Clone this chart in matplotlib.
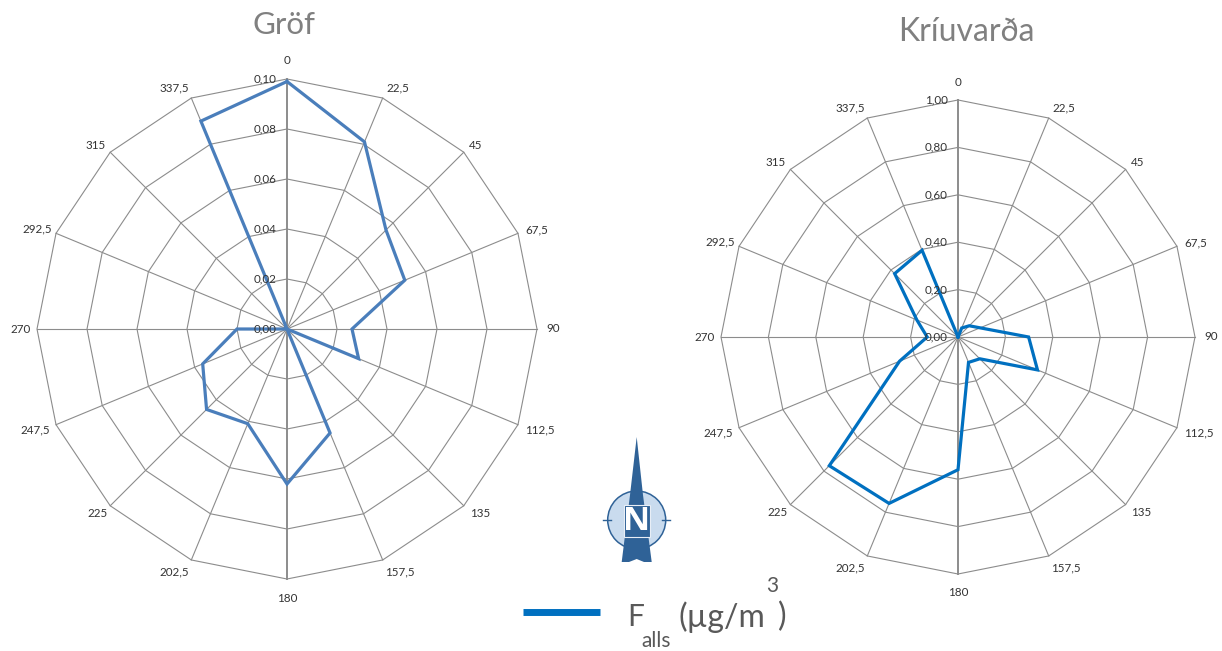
#!/usr/bin/env python3
"""Wind roses for Gröf and Kríuvarða with north arrow and shared legend."""

import numpy as np
import matplotlib
matplotlib.use("Agg")
import matplotlib.pyplot as plt
from matplotlib.patches import Circle, Polygon, Rectangle

plt.rcParams['font.family'] = ['Lato', 'Open Sans', 'DejaVu Sans']

# Data
directions = [0, 22.5, 45, 67.5, 90, 112.5, 135, 157.5, 180, 202.5, 225, 247.5,
              270, 292.5, 315, 337.5]
direction_labels = ["0", "22,5", "45", "67,5", "90", "112,5", "135", "157,5", "180",
                    "202,5", "225", "247,5", "270", "292,5", "315", "337,5"]
grof_values = [0.099, 0.081, 0.056, 0.051, 0.026, 0.031, 0.0, 0.045, 0.062,
               0.041, 0.0455, 0.0365, 0.020, 0.0, 0.0, 0.090]
kriuvarda_values = [0.0, 0.041, 0.067, 0.101, 0.298, 0.363, 0.13, 0.116, 0.56,
                    0.76, 0.768, 0.267, 0.13, 0.188, 0.378, 0.396]
grof_rticks = [0.0, 0.02, 0.04, 0.06, 0.08, 0.10]
kriuvarda_rticks = [0.0, 0.2, 0.4, 0.6, 0.8, 1.0]

# pixel offset of each direction label from its outer grid corner
label_offsets = [(0, -18), (15, -10), (12, -7), (19, -3), (16, 0), (22, 5), (16, 8),
                 (17, 12), (0, 19), (-17, 12), (-13, 8), (-21, 5), (-16, 0), (-19, -4),
                 (-15, -7), (-17, -10)]

W, H = 1222, 651
GRID = '#8c8c8c'
TITLE = '#808080'
fig = plt.figure(figsize=(W / 100, H / 100), dpi=100, facecolor='white')


def rose(cx, cy, radius, values, rticks, color, title, title_xy, title_size):
    ax = fig.add_axes([(cx - radius) / W, 1 - (cy + radius) / H,
                       2 * radius / W, 2 * radius / H], projection='polar')
    ax.set_theta_zero_location('N')
    ax.set_theta_direction(-1)
    rmax = rticks[-1]
    ax.set_rlim(0, rmax)
    ax.set_axis_off()
    theta = np.deg2rad(directions)
    ring = np.append(theta, theta[0])

    # straight-sided grid like a spreadsheet radar chart
    for r in rticks[1:]:
        ax.plot(ring, [r] * len(ring), color=GRID, lw=0.8, clip_on=False, zorder=1)
    for t, d in zip(theta, directions):
        lw = 1.4 if d in (0, 180) else 0.8
        ax.plot([t, t], [0, rmax], color=GRID, lw=lw, clip_on=False, zorder=1)

    ax.plot(ring, values + values[:1], color=color, lw=2.3, clip_on=False, zorder=3,
            solid_joinstyle='miter')

    for r in rticks:
        ax.annotate(f"{r:.2f}".replace('.', ','), (0, r), xytext=(-7.5, 0),
                    textcoords='offset points', ha='right', va='center',
                    fontsize=8.4, color='#333333', zorder=4, annotation_clip=False)
    for t, label, off in zip(theta, direction_labels, label_offsets):
        ax.annotate(label, (t, rmax), xytext=(off[0] * 0.72, -off[1] * 0.72),
                    textcoords='offset points', ha='center', va='center', fontsize=8.4,
                    color='#333333', annotation_clip=False)
    fig.text(title_xy[0] / W, 1 - title_xy[1] / H, title, ha='center', va='center',
             fontsize=title_size, color=TITLE)


rose(287, 329, 250, grof_values, grof_rticks, '#4a7ebb', 'Gröf', (284, 25), 22.5)
rose(958, 337, 237, kriuvarda_values, kriuvarda_rticks, '#0070c0', 'Kríuvarða',
     (966, 32), 23)

# overlay in pixel coordinates for north arrow and legend
over = fig.add_axes([0, 0, 1, 1])
over.set_xlim(0, W)
over.set_ylim(H, 0)
over.set_axis_off()
over.patch.set_alpha(0)

BLUE = '#2f6297'
over.add_patch(Circle((636.7, 520), 29, facecolor='#c9dbee', edgecolor=BLUE, lw=1.1))
over.plot([603, 611], [520, 520], color=BLUE, lw=1)
over.plot([662, 670], [520, 520], color=BLUE, lw=1)
over.add_patch(Polygon([(636.7, 437), (643, 495), (651.7, 562), (644, 562),
                        (636.7, 559), (629, 562), (621.7, 562), (630, 495)],
                       closed=True, facecolor=BLUE, edgecolor='none'))
over.add_patch(Rectangle((623.5, 505), 26, 32, facecolor=BLUE, edgecolor='#e8eef6', lw=0.8))
over.text(636.7, 521.5, 'N', ha='center', va='center', fontsize=24, fontweight='bold',
          family='Open Sans', color='white')

over.plot([523, 600], [612, 612], color='#0070c0', lw=5, solid_capstyle='butt')
over.text(627, 617, 'F', ha='left', va='center', fontsize=21.5, color='#595959')
over.text(641, 641, 'alls', ha='left', va='center', fontsize=15, color='#595959')
over.text(679, 617, '(µg/m', ha='left', va='center', fontsize=23, color='#595959')
over.text(766, 586, '3', ha='left', va='center', fontsize=15, color='#595959')
over.text(778, 617, ')', ha='left', va='center', fontsize=23, color='#595959')

fig.savefig('out.png', dpi=100, facecolor='white')
plt.close(fig)
